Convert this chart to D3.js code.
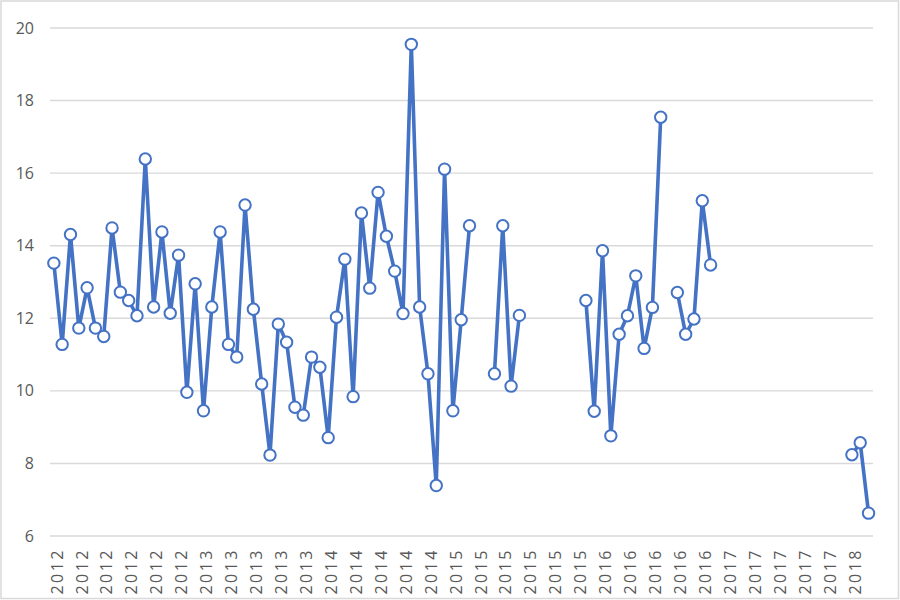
<!DOCTYPE html>
<html>
<head>
<meta charset="utf-8">
<script src="https://cdn.jsdelivr.net/npm/d3@7"></script>
<style>
  html, body { margin: 0; padding: 0; background: #fff; }
  svg { display: block; }
  text { font-family: "Open Sans", "Liberation Sans", sans-serif; fill: #595959; }
</style>
</head>
<body>
<svg id="chart" width="900" height="600"></svg>
<script>
const categories = [
  "2012","2012","2012","2012","2012","2012","2012","2012","2012","2012","2012","2012","2012","2012","2012","2012","2012","2012",
  "2013","2013","2013","2013","2013","2013","2013","2013","2013","2013","2013","2013","2013","2013","2013",
  "2014","2014","2014","2014","2014","2014","2014","2014","2014","2014","2014","2014","2014","2014","2014",
  "2015","2015","2015","2015","2015","2015","2015","2015","2015","2015","2015","2015","2015","2015","2015","2015","2015","2015",
  "2016","2016","2016","2016","2016","2016","2016","2016","2016","2016","2016","2016","2016","2016","2016",
  "2017","2017","2017","2017","2017","2017","2017","2017","2017","2017","2017","2017","2017","2017","2017",
  "2018","2018","2018"
];
const values = [
  13.52, 11.28, 14.31, 11.73, 12.84, 11.73, 11.50, 14.49, 12.72, 12.49,
  12.07, 16.39, 12.31, 14.38, 12.14, 13.74, 9.96, 12.95, 9.45, 12.31,
  14.38, 11.28, 10.93, 15.12, 12.25, 10.19, 8.23, 11.84, 11.34, 9.55,
  9.33, 10.93, 10.65, 8.71, 12.03, 13.63, 9.84, 14.90, 12.83, 15.47,
  14.26, 13.30, 12.13, 19.55, 12.31, 10.47, 7.39, 16.11, 9.45, 11.96,
  14.55, null, null, 10.47, 14.55, 10.13, 12.08, null, null, null,
  null, null, null, null, 12.49, 9.44, 13.86, 8.76, 11.56, 12.07,
  13.17, 11.17, 12.30, 17.54, null, 12.71, 11.56, 11.98, 15.24, 13.47,
  null, null, null, null, null, null, null, null, null, null,
  null, null, null, null, null, null, 8.24, 8.57, 6.63
];
const yTicks = [6, 8, 10, 12, 14, 16, 18, 20];
const labelEvery = 3;

const W = 900, H = 600;
const plot = { left: 50, right: 873, top: 28, bottom: 536 };
const svg = d3.select("#chart");

// chart border
svg.append("rect")
  .attr("x", 1).attr("y", 1).attr("width", W - 2.5).attr("height", H - 2.5)
  .attr("fill", "#fff").attr("stroke", "#d9d9d9").attr("stroke-width", 1.5);

const idx = d3.range(categories.length);
const x = d3.scaleBand().domain(idx).range([plot.left, plot.right]).paddingInner(0).paddingOuter(0);
const cx = i => x(i) + x.bandwidth() / 2 - 0.3;
const y = d3.scaleLinear().domain([6, 20]).range([plot.bottom, plot.top]);

// gridlines
svg.append("g").selectAll("line").data(yTicks).join("line")
  .attr("x1", plot.left).attr("x2", plot.right)
  .attr("y1", d => y(d)).attr("y2", d => y(d))
  .attr("stroke", "#d9d9d9").attr("stroke-width", 1.4);

// y axis labels
const yAxis = d3.axisLeft(y).tickValues(yTicks).tickSize(0).tickPadding(0).tickFormat(d3.format("d"));
const gy = svg.append("g").attr("transform", `translate(${plot.left - 16},0)`).call(yAxis);
gy.select(".domain").remove();
gy.selectAll("text").attr("font-size", 16).attr("fill", "#595959")
  .attr("font-family", "'Open Sans', sans-serif");

// x axis labels
const xAxis = d3.axisBottom(x)
  .tickValues(idx.filter(i => i % labelEvery === 0))
  .tickFormat(i => categories[i]).tickSize(0).tickPadding(0);
const gx = svg.append("g").attr("transform", `translate(2.8,${plot.bottom + 12})`).call(xAxis);
gx.select(".domain").remove();
gx.selectAll("text")
  .attr("transform", "rotate(-90)")
  .attr("x", 0).attr("y", 0).attr("dy", "0.35em")
  .attr("text-anchor", "end")
  .attr("font-size", 16).attr("letter-spacing", 2.5)
  .attr("fill", "#595959")
  .attr("font-family", "'Open Sans', sans-serif");

// line
const line = d3.line()
  .defined(d => d != null)
  .x((d, i) => cx(i))
  .y(d => y(d));
svg.append("path").datum(values)
  .attr("d", line)
  .attr("fill", "none").attr("stroke", "#4472C4").attr("stroke-width", 3.6)
  .attr("stroke-linejoin", "round");

// markers
svg.append("g").selectAll("circle")
  .data(values.map((v, i) => ({ v, i })).filter(d => d.v != null))
  .join("circle")
  .attr("cx", d => cx(d.i)).attr("cy", d => y(d.v))
  .attr("r", 5.7)
  .attr("fill", "#fff").attr("stroke", "#4472C4").attr("stroke-width", 2);
</script>
</body>
</html>
